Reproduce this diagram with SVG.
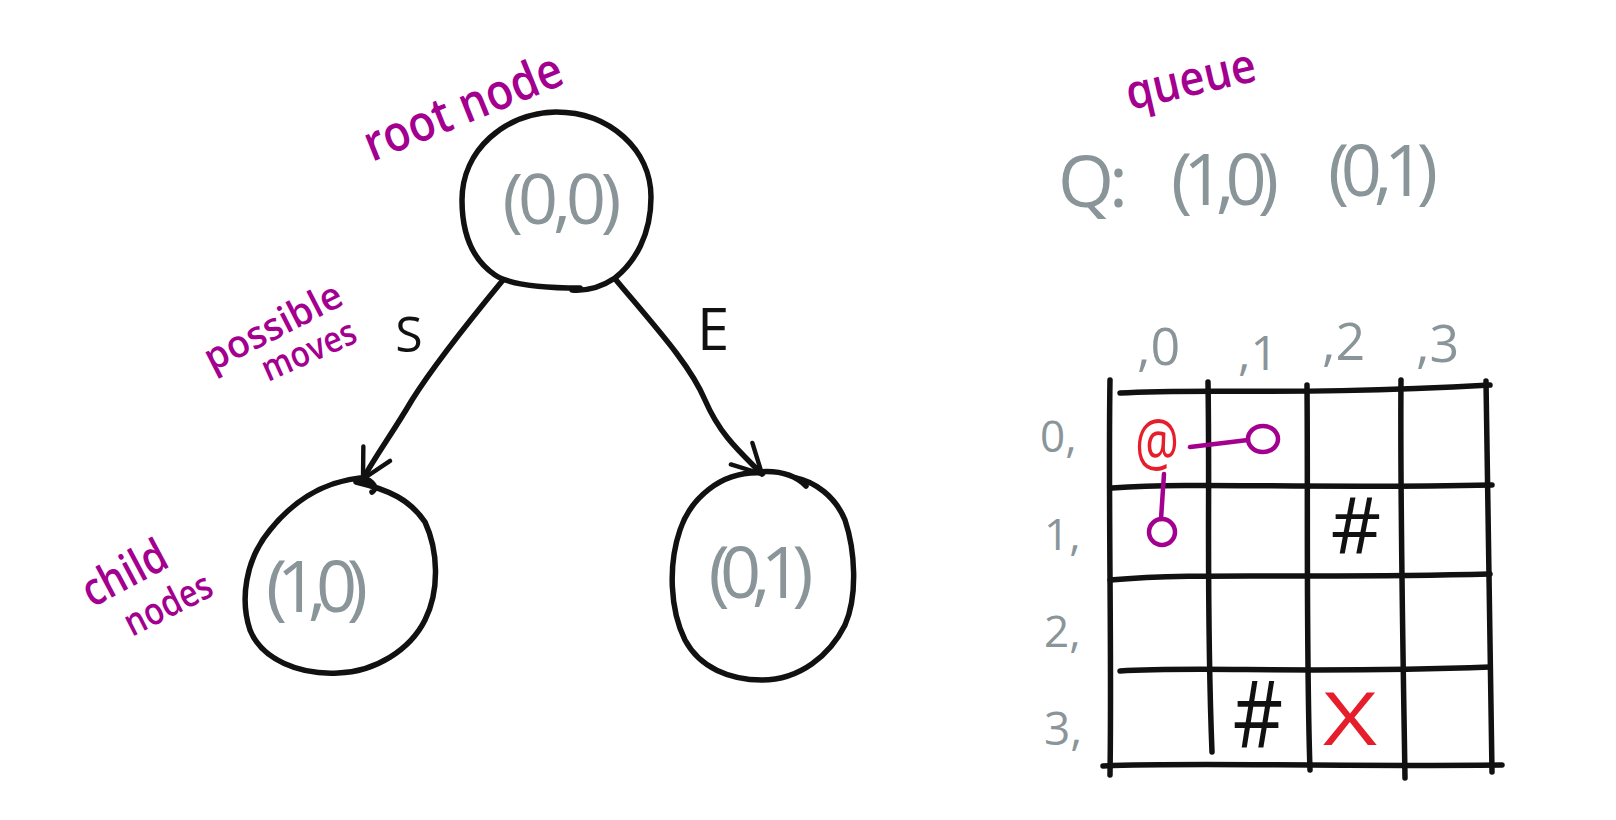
<svg xmlns="http://www.w3.org/2000/svg" width="1616" height="820" viewBox="0 0 1616 820">
<defs>
<style>
.ink{fill:none;stroke:#111;stroke-width:5.5;stroke-linecap:round;stroke-linejoin:round}
.gray{font-family:"Open Sans","Liberation Sans",sans-serif;fill:#8a9599;font-weight:400}
.mag{font-family:"Open Sans","Liberation Sans",sans-serif;fill:#a3008f;font-weight:600}
.blk{font-family:"Open Sans","Liberation Sans",sans-serif;fill:#111;font-weight:400}
.red{font-family:"Open Sans","Liberation Sans",sans-serif;fill:#e61e2b;font-weight:400}
.pl{fill:none;stroke:#a3008f;stroke-width:4.5;stroke-linecap:round}
</style>
<marker id="arr" markerUnits="userSpaceOnUse" markerWidth="80" markerHeight="80" refX="0" refY="0" orient="auto" overflow="visible" viewBox="-50 -40 100 80">
<path d="M -36,-19 L 0,0 L -36,19" fill="none" stroke="#111" stroke-width="5.5" stroke-linecap="round" stroke-linejoin="round"/>
</marker>
</defs>
<rect width="1616" height="820" fill="#fff"/>

<g id="connectors">
<path class="ink" d="M 503,280 C 470,320 432,368 412,400 C 392,434 376,455 363,479" marker-end="url(#arr)"/>
<path class="ink" d="M 616,280 C 658,330 690,365 705,400 C 720,435 740,452 762,474" marker-end="url(#arr)"/>
<text class="blk" x="409" y="352" font-size="50" text-anchor="middle">S</text>
<text class="blk" x="713" y="350" font-size="58" text-anchor="middle">E</text>
</g>

<g id="root">
<path class="ink" d="M 580,288 C 540,288 510,285 495,275 C 470,258 462,230 462,200 C 462,150 505,113 556,112 C 610,112 651,150 651,197 C 651,235 635,262 615,278 C 600,288 585,291 572,290"/>
<text class="gray" x="562" y="224" font-size="70" text-anchor="middle" textLength="119" lengthAdjust="spacing">(0,0)</text>
<text class="mag" x="372" y="162" font-size="50" transform="rotate(-22 372 162)" textLength="210" lengthAdjust="spacingAndGlyphs">root node</text>
</g>

<g id="child-left">
<path class="ink" d="M 372,492 C 380,486 368,478 360,478 C 320,482 290,505 270,530 C 245,560 240,600 250,630 C 262,660 300,675 338,673 C 375,672 410,650 425,620 C 440,590 438,550 425,522 C 410,500 390,490 356,482"/>
<text class="gray" x="317" y="612" font-size="72" text-anchor="middle" textLength="102" lengthAdjust="spacing">(1,0)</text>
</g>

<g id="child-right">
<path class="ink" d="M 763,473 C 720,470 690,500 680,530 C 668,565 670,610 685,640 C 700,668 730,680 762,680 C 800,680 830,655 845,625 C 858,595 855,550 845,520 C 835,496 815,482 796,478"/>
<path class="ink" d="M 758,472 C 780,470 796,476 806,486"/>
<text class="gray" x="761" y="598" font-size="72" text-anchor="middle" textLength="105" lengthAdjust="spacing">(0,1)</text>
</g>

<g id="labels">
<text class="mag" x="212" y="372" font-size="38" transform="rotate(-27 212 372)" textLength="150" lengthAdjust="spacingAndGlyphs">possible</text>
<text class="mag" x="268" y="382" font-size="36" transform="rotate(-24 268 382)" textLength="100" lengthAdjust="spacingAndGlyphs">moves</text>
<text class="mag" x="92" y="608" font-size="46" transform="rotate(-28 92 608)" textLength="90" lengthAdjust="spacingAndGlyphs">child</text>
<text class="mag" x="132" y="637" font-size="38" transform="rotate(-27 132 637)" textLength="94" lengthAdjust="spacingAndGlyphs">nodes</text>
</g>

<g id="queue">
<text class="mag" x="1130" y="110" font-size="48" transform="rotate(-13 1130 110)" textLength="132" lengthAdjust="spacingAndGlyphs">queue</text>
<text class="gray" x="1058" y="207" font-size="72" textLength="70" lengthAdjust="spacing">Q:</text>
<text class="gray" x="1225" y="205" font-size="72" text-anchor="middle" textLength="108" lengthAdjust="spacing">(1,0)</text>
<text class="gray" x="1383" y="196" font-size="72" text-anchor="middle" textLength="110" lengthAdjust="spacing">(0,1)</text>
</g>

<g id="grid">
<path class="ink" d="M 1110,380 C 1108,500 1112,650 1110,775"/>
<path class="ink" d="M 1208,382 C 1210,500 1206,600 1212,752"/>
<path class="ink" d="M 1307,385 C 1308,500 1306,650 1310,770"/>
<path class="ink" d="M 1401,380 C 1400,500 1403,650 1405,778"/>
<path class="ink" d="M 1486,381 C 1488,500 1490,650 1492,772"/>
<path class="ink" d="M 1120,393 C 1200,388 1300,396 1490,385"/>
<path class="ink" d="M 1112,488 C 1200,482 1300,489 1492,485"/>
<path class="ink" d="M 1110,580 C 1200,572 1300,579 1490,574"/>
<path class="ink" d="M 1120,671 C 1200,666 1300,674 1490,667"/>
<path class="ink" d="M 1103,766 C 1200,762 1300,767 1502,765"/>
<text class="gray" x="1137" y="365" font-size="52">,0</text>
<text class="gray" x="1238" y="370" font-size="48">,1</text>
<text class="gray" x="1322" y="360" font-size="52">,2</text>
<text class="gray" x="1416" y="362" font-size="52">,3</text>
<text class="gray" x="1040" y="452" font-size="44">0,</text>
<text class="gray" x="1044" y="550" font-size="44">1,</text>
<text class="gray" x="1044" y="647" font-size="44">2,</text>
<text class="gray" x="1044" y="745" font-size="46">3,</text>
<text class="red" x="1157" y="465" font-size="64" text-anchor="middle" textLength="44" lengthAdjust="spacingAndGlyphs">@</text>
<path class="pl" d="M 1190,447 L 1248,440"/>
<ellipse class="pl" cx="1263" cy="439" rx="15" ry="13"/>
<path class="pl" d="M 1164,474 L 1161,519"/>
<circle class="pl" cx="1162" cy="532" r="13"/>
<text class="blk" x="1356" y="554" font-size="78" text-anchor="middle">#</text>
<text class="blk" x="1258" y="748" font-size="78" text-anchor="middle" transform="translate(0 -150) scale(1 1.2)">#</text>
<text class="red" x="1350" y="745" font-size="74" text-anchor="middle" font-weight="300" textLength="54" lengthAdjust="spacingAndGlyphs">X</text>
</g>
</svg>
